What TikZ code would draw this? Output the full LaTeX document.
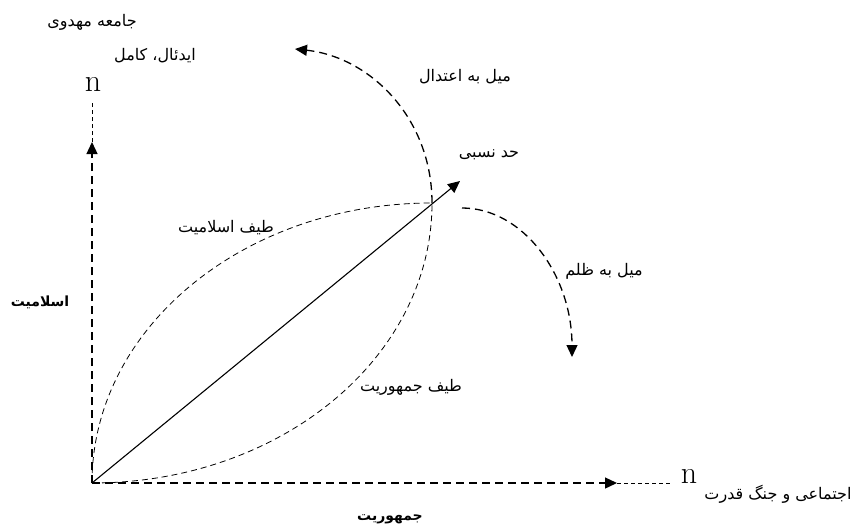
\documentclass[tikz,border=0pt]{standalone}
\usepackage{fontspec}
\usetikzlibrary{arrows.meta}
\newfontfamily\fa[Script=Arabic]{DejaVu Sans}
\TeXXeTstate=1

\tikzset{
  axisline/.style={line width=1.3pt, dash pattern=on 8pt off 5pt},
  thinaxis/.style={line width=0.6pt, dash pattern=on 4pt off 3pt},
  specline/.style={line width=0.8pt, dash pattern=on 6pt off 4pt},
  trendline/.style={line width=1.3pt, dash pattern=on 8pt off 5pt},
  bigtip/.style={-{Triangle[length=12pt,width=11pt]}},
  falabel/.style={font=\fa\fontsize{16}{18}\selectfont, inner sep=0pt},
  fabold/.style={font=\fa\bfseries\fontsize{14}{16}\selectfont, inner sep=0pt},
  nletter/.style={font=\fontsize{32}{32}\selectfont, inner sep=0pt}
}

\begin{document}
\begin{tikzpicture}[x=1pt,y=-1pt]
        \useasboundingbox (0,0) rectangle (853,527);

        % Points
        \coordinate (O) at (92,483);
        \coordinate (P) at (432,203);
        \coordinate (xtip) at (617,483);
        \coordinate (xend) at (670,483);
        \coordinate (ytip) at (92,142);
        \coordinate (yend) at (92,102);
        \coordinate (tip) at (460,181);
        \coordinate (etedal) at (295,49);
        \coordinate (zstart) at (462,208);
        \coordinate (zolm) at (572,357);

        % Axes
        \draw[axisline, bigtip] (O) -- (xtip);
        \draw[thinaxis] (xtip) -- (xend);
        \draw[axisline, bigtip] (O) -- (ytip);
        \draw[thinaxis] (ytip) -- (yend);
        \node[nletter] (nx) at (689,476) {n};
        \node[nletter] (ny) at (93,84) {n};

        % Spectra
        \draw[specline] (O) .. controls +(0,-155) and +(-188,0) .. (P); % islamiat
        \draw[specline] (O) .. controls +(188,0) and +(0,155) .. (P); % jomhuriat

        % Relative limit
        \draw[line width=1.1pt, bigtip] (O) -- (tip);

        % Tendencies
        \draw[trendline, bigtip] (P) .. controls +(0,-85) and +(75,8) .. (etedal);
        \draw[trendline, bigtip] (zstart) .. controls +(61,0) and +(0,-82) .. (zolm);

        % Labels
        \node[falabel] (mahdavi) at (92,22) {\beginR جامعه مهدوی\endR};
        \node[falabel] (ideal) at (155,56) {\beginR ایدئال، کامل\endR};
        \node[falabel] (etedallbl) at (465,77) {\beginR میل به اعتدال\endR};
        \node[falabel] (nesbi) at (489,155) {\beginR حد نسبی\endR};
        \node[falabel] (tislam) at (226,228) {\beginR طیف اسلامیت\endR};
        \node[fabold] (islam) at (40,302) {\beginR اسلامیت\endR};
        \node[falabel] (zolmlbl) at (604,271) {\beginR میل به ظلم\endR};
        \node[falabel] (tjomhur) at (411,387) {\beginR طیف جمهوریت\endR};
        \node[falabel] (jang) at (778,494) {\beginR اجتماعی و جنگ قدرت\endR};
        \node[fabold] (jomhur) at (390,519) {\beginR جمهوریت\endR};
\end{tikzpicture}
\end{document}
